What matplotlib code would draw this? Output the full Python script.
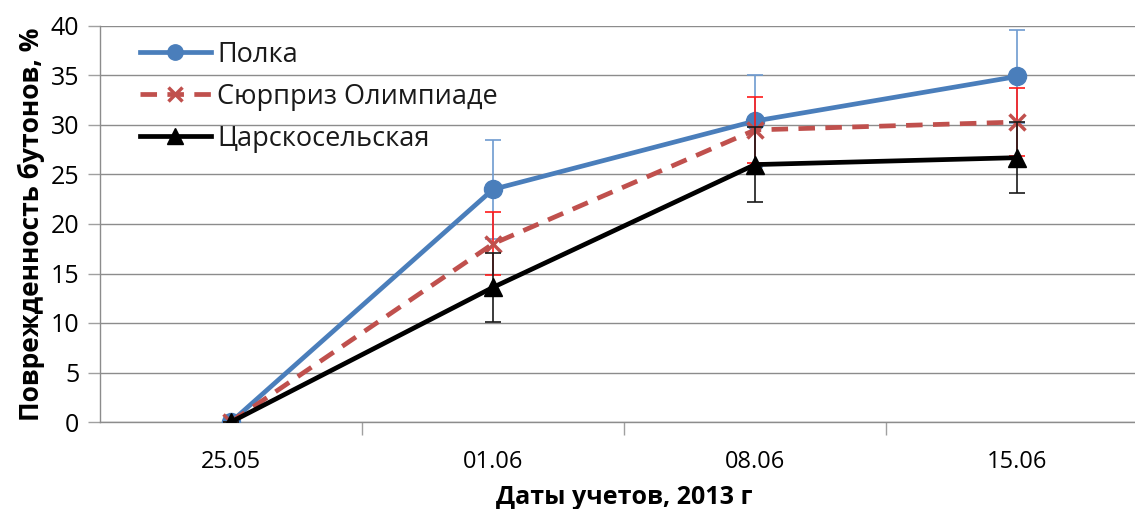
import matplotlib.pyplot as plt
from matplotlib.ticker import FixedLocator

# Повреждённость бутонов по датам учётов
dates = ["25.05", "01.06", "08.06", "15.06"]
polka = [0, 23.5, 30.4, 34.9]
polka_err = [0, 5.0, 4.6, 4.7]
surprise = [0, 18.0, 29.5, 30.3]
surprise_err = [0, 3.2, 3.3, 3.4]
tsarskoe = [0, 13.6, 26.0, 26.7]
tsarskoe_err = [0, 3.5, 3.8, 3.6]

plt.rcParams['font.family'] = ['Open Sans', 'DejaVu Sans']

fig = plt.figure(figsize=(11.35, 5.09), dpi=100)
ax = fig.add_axes([100 / 1135, 1 - 422 / 509, 1048 / 1135, 396 / 509])

x = list(range(len(dates)))

ax.errorbar(x, polka, yerr=polka_err, fmt='none', ecolor='#6E9BD0',
            elinewidth=1.2, capsize=5.5, capthick=1.2, zorder=3)
ax.plot(x, polka, color='#4A7EBB', lw=3.4, marker='o', ms=13,
        label='Полка', zorder=4)

ax.errorbar(x, surprise, yerr=surprise_err, fmt='none', ecolor='#FF1A1A',
            elinewidth=1.2, capsize=5.5, capthick=1.2, zorder=5)
ax.plot(x, surprise, color='#C0504D', lw=3.4, dashes=(3.5, 2.2),
        marker='x', ms=12, mew=2.5, label='Сюрприз Олимпиаде', zorder=6)

ax.errorbar(x, tsarskoe, yerr=tsarskoe_err, fmt='none', ecolor='#1A1A1A',
            elinewidth=1.2, capsize=5.5, capthick=1.2, zorder=7)
ax.plot(x, tsarskoe, color='black', lw=3.4, marker='^', ms=13,
        label='Царскосельская', zorder=8)

ax.set_xlim(-0.5, 3.5)
ax.set_ylim(0, 40)
ax.set_yticks(range(0, 41, 5))
ax.set_xticks(x)
ax.set_xticklabels(dates)
ax.xaxis.set_minor_locator(FixedLocator([0.5, 1.5, 2.5]))
ax.tick_params(axis='x', which='major', length=0, pad=20, labelsize=17)
ax.tick_params(axis='x', which='minor', length=9, color='#A0A0A0', width=1)
ax.tick_params(axis='y', length=9, color='#A0A0A0', width=1, labelsize=18, pad=6)

ax.grid(axis='y', color='#8C8C8C', lw=1)
ax.set_axisbelow(True)
for side in ('top', 'right'):
    ax.spines[side].set_visible(False)
for side in ('left', 'bottom'):
    ax.spines[side].set_color('#8C8C8C')
    ax.spines[side].set_linewidth(1)

ax.set_ylabel('Поврежденность бутонов, %', fontsize=19, fontweight='bold', labelpad=4)
ax.set_xlabel('Даты учетов, 2013 г', fontsize=18, fontweight='bold', labelpad=8)

leg = ax.legend(loc='upper left', bbox_to_anchor=(0.028, 0.99), frameon=False,
                fontsize=19.5, handlelength=2.6, labelspacing=0.52,
                handletextpad=0.25, borderaxespad=0, markerscale=0.85)
for t in leg.get_texts():
    t.set_color('#1A1A1A')

fig.savefig('out.png', dpi=100, facecolor='white')
